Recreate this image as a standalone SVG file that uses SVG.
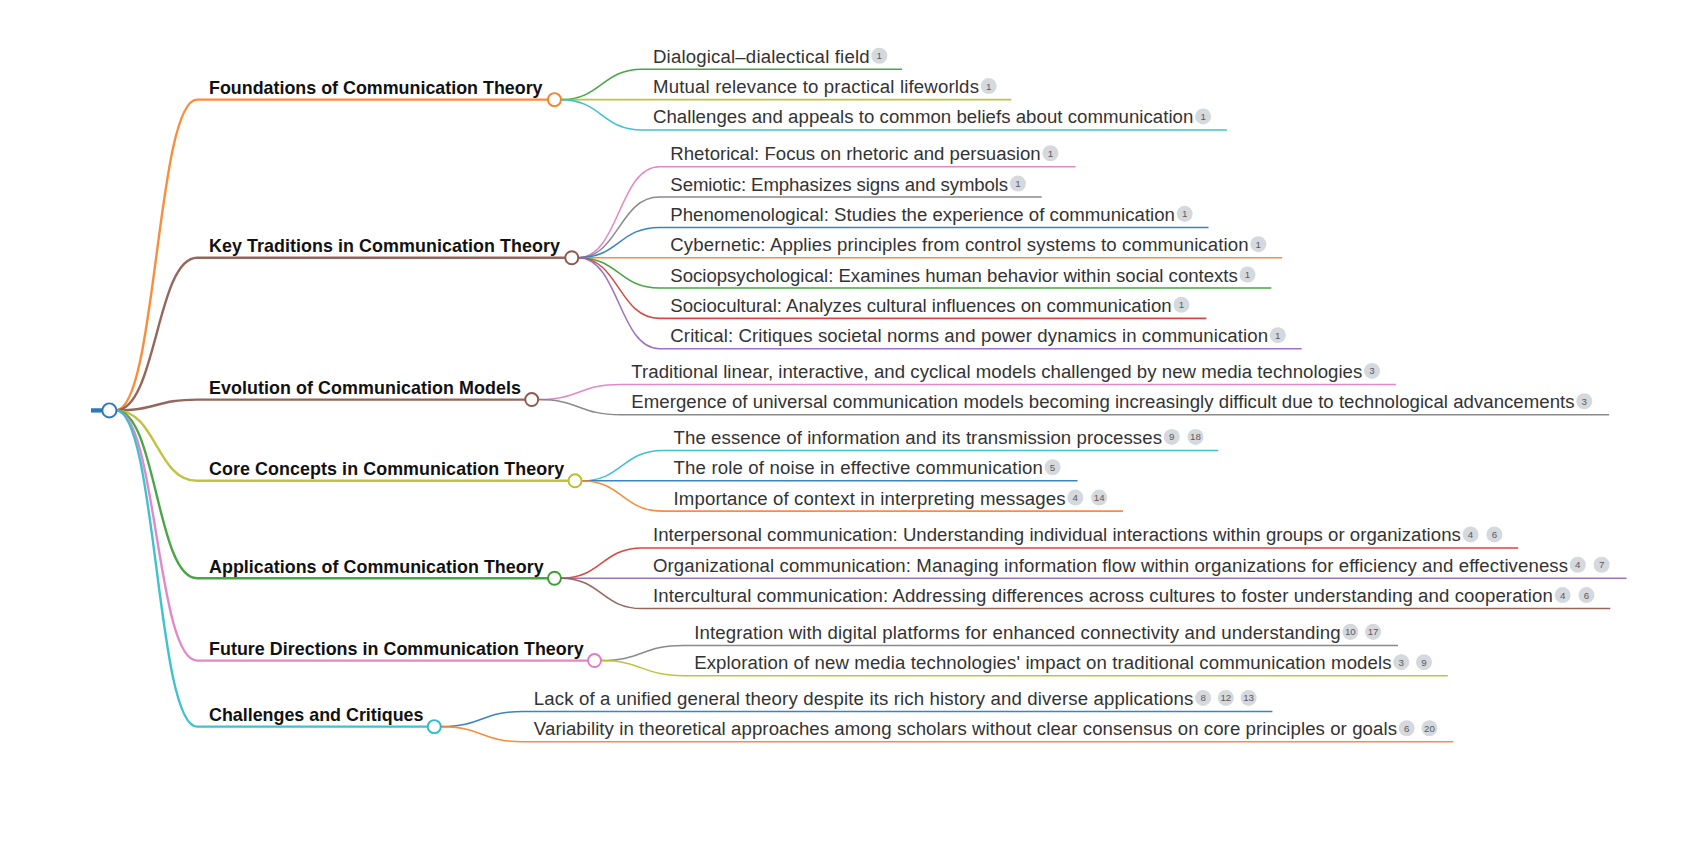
<svg xmlns="http://www.w3.org/2000/svg" width="1698" height="850" viewBox="0 0 1698 850">
<style>
.c1{fill:none;stroke-width:2.2;stroke-opacity:0.92}
.c2{fill:none;stroke-width:1.4;stroke-opacity:0.92}
.t1{font-family:"Liberation Sans",Arial,sans-serif;font-weight:bold;font-size:16.5px;fill:#111}
.t2{font-family:"Liberation Sans",Arial,sans-serif;font-size:17.2px;fill:#333}
.dot{fill:#fff;stroke-width:1.8}
.b circle{fill:#d5d8dd}
.b text{font-family:"Liberation Sans",Arial,sans-serif;font-size:9px;fill:#5a5a5a;text-anchor:middle}
.blue{stroke:#2a7ab8}.orange{stroke:#f8832a}.green{stroke:#3a9e34}.red{stroke:#d33a32}.purple{stroke:#9467bd}
.brown{stroke:#8c5a4e}.pink{stroke:#e07ec4}.gray{stroke:#808080}.olive{stroke:#bcbd30}.cyan{stroke:#2fbccc}
</style>
<rect width="1698" height="850" fill="#fff"/>
<g transform="scale(1.0829)">
<g id="connectors">
<line x1="84" y1="379" x2="96" y2="379" stroke="#2a7ab8" stroke-width="4"/>
<path class="c1 orange" d="M107 379C144.5 379 144.5 92 182 92L506 92"/>
<path class="c1 brown" d="M107 379C144.5 379 144.5 238 182 238L522 238"/>
<path class="c1 brown" d="M107 379C144.5 379 144.5 369 182 369L485 369"/>
<path class="c1 olive" d="M107 379C144.5 379 144.5 444 182 444L525 444"/>
<path class="c1 green" d="M107 379C144.5 379 144.5 534 182 534L506 534"/>
<path class="c1 pink" d="M107 379C144.5 379 144.5 610 182 610L543 610"/>
<path class="c1 cyan" d="M107 379C144.5 379 144.5 671 182 671L395 671"/>

<path class="c2 green" d="M518 92C555.5 92 555.5 64 593 64L833 64"/>
<path class="c2 olive" d="M518 92L934 92"/>
<path class="c2 cyan" d="M518 92C555.5 92 555.5 120 593 120L1133 120"/>

<path class="c2 pink" d="M534 238C571.5 238 571.5 154 609 154L993 154"/>
<path class="c2 gray" d="M534 238C571.5 238 571.5 182 609 182L962 182"/>
<path class="c2 blue" d="M534 238C571.5 238 571.5 210 609 210L1116 210"/>
<path class="c2 orange" d="M534 238L1184 238"/>
<path class="c2 green" d="M534 238C571.5 238 571.5 266 609 266L1174 266"/>
<path class="c2 red" d="M534 238C571.5 238 571.5 294 609 294L1114 294"/>
<path class="c2 purple" d="M534 238C571.5 238 571.5 322 609 322L1202 322"/>

<path class="c2 pink" d="M497 369C535 369 535 355 573 355L1289 355"/>
<path class="c2 gray" d="M497 369C535 369 535 383 573 383L1486 383"/>

<path class="c2 cyan" d="M537 444C574.5 444 574.5 416 612 416L1125 416"/>
<path class="c2 blue" d="M537 444L995 444"/>
<path class="c2 orange" d="M537 444C574.5 444 574.5 472 612 472L1037 472"/>

<path class="c2 red" d="M518 534C555.5 534 555.5 506 593 506L1402 506"/>
<path class="c2 purple" d="M518 534L1502 534"/>
<path class="c2 brown" d="M518 534C555.5 534 555.5 562 593 562L1487 562"/>

<path class="c2 gray" d="M555 610C593 610 593 596 631 596L1291 596"/>
<path class="c2 olive" d="M555 610C593 610 593 624 631 624L1337 624"/>

<path class="c2 blue" d="M407 671C445 671 445 657 483 657L1175 657"/>
<path class="c2 orange" d="M407 671C445 671 445 685 483 685L1342 685"/>
</g>

<g id="root"><circle class="dot blue" cx="101" cy="379" r="6.5" stroke-width="2"/></g>

<g id="n1"><circle class="dot orange" cx="512" cy="92" r="6"/><text class="t1" x="193" y="87" textLength="308">Foundations of Communication Theory</text></g>
<g id="n2"><circle class="dot brown" cx="528" cy="238" r="6"/><text class="t1" x="193" y="233" textLength="324">Key Traditions in Communication Theory</text></g>
<g id="n3"><circle class="dot brown" cx="491" cy="369" r="6"/><text class="t1" x="193" y="364" textLength="288">Evolution of Communication Models</text></g>
<g id="n4"><circle class="dot olive" cx="531" cy="444" r="6"/><text class="t1" x="193" y="439" textLength="328">Core Concepts in Communication Theory</text></g>
<g id="n5"><circle class="dot green" cx="512" cy="534" r="6"/><text class="t1" x="193" y="529" textLength="309">Applications of Communication Theory</text></g>
<g id="n6"><circle class="dot pink" cx="549" cy="610" r="6"/><text class="t1" x="193" y="605" textLength="346">Future Directions in Communication Theory</text></g>
<g id="n7"><circle class="dot cyan" cx="401" cy="671" r="6"/><text class="t1" x="193" y="666" textLength="198">Challenges and Critiques</text></g>

<g id="n1-1"><text class="t2" x="603" y="58" textLength="200">Dialogical–dialectical field</text><g class="b"><circle cx="812" cy="51.5" r="7.4"/><text x="812" y="54.7">1</text></g></g>
<g id="n1-2"><text class="t2" x="603" y="86" textLength="301">Mutual relevance to practical lifeworlds</text><g class="b"><circle cx="913" cy="79.5" r="7.4"/><text x="913" y="82.7">1</text></g></g>
<g id="n1-3"><text class="t2" x="603" y="114" textLength="499">Challenges and appeals to common beliefs about communication</text><g class="b"><circle cx="1111" cy="107.5" r="7.4"/><text x="1111" y="110.7">1</text></g></g>

<g id="n2-1"><text class="t2" x="619" y="148" textLength="342">Rhetorical: Focus on rhetoric and persuasion</text><g class="b"><circle cx="970" cy="141.5" r="7.4"/><text x="970" y="144.7">1</text></g></g>
<g id="n2-2"><text class="t2" x="619" y="176" textLength="312">Semiotic: Emphasizes signs and symbols</text><g class="b"><circle cx="940" cy="169.5" r="7.4"/><text x="940" y="172.7">1</text></g></g>
<g id="n2-3"><text class="t2" x="619" y="204" textLength="466">Phenomenological: Studies the experience of communication</text><g class="b"><circle cx="1094" cy="197.5" r="7.4"/><text x="1094" y="200.7">1</text></g></g>
<g id="n2-4"><text class="t2" x="619" y="232" textLength="534">Cybernetic: Applies principles from control systems to communication</text><g class="b"><circle cx="1162" cy="225.5" r="7.4"/><text x="1162" y="228.7">1</text></g></g>
<g id="n2-5"><text class="t2" x="619" y="260" textLength="524">Sociopsychological: Examines human behavior within social contexts</text><g class="b"><circle cx="1152" cy="253.5" r="7.4"/><text x="1152" y="256.7">1</text></g></g>
<g id="n2-6"><text class="t2" x="619" y="288" textLength="463">Sociocultural: Analyzes cultural influences on communication</text><g class="b"><circle cx="1091" cy="281.5" r="7.4"/><text x="1091" y="284.7">1</text></g></g>
<g id="n2-7"><text class="t2" x="619" y="316" textLength="552">Critical: Critiques societal norms and power dynamics in communication</text><g class="b"><circle cx="1180" cy="309.5" r="7.4"/><text x="1180" y="312.7">1</text></g></g>

<g id="n3-1"><text class="t2" x="583" y="349" textLength="675">Traditional linear, interactive, and cyclical models challenged by new media technologies</text><g class="b"><circle cx="1267" cy="342.5" r="7.4"/><text x="1267" y="345.7">3</text></g></g>
<g id="n3-2"><text class="t2" x="583" y="377" textLength="871">Emergence of universal communication models becoming increasingly difficult due to technological advancements</text><g class="b"><circle cx="1463" cy="370.5" r="7.4"/><text x="1463" y="373.7">3</text></g></g>

<g id="n4-1"><text class="t2" x="622" y="410" textLength="451">The essence of information and its transmission processes</text><g class="b"><circle cx="1082" cy="403.5" r="7.4"/><text x="1082" y="406.7">9</text></g><g class="b"><circle cx="1104" cy="403.5" r="7.4"/><text x="1104" y="406.7">18</text></g></g>
<g id="n4-2"><text class="t2" x="622" y="438" textLength="341">The role of noise in effective communication</text><g class="b"><circle cx="972" cy="431.5" r="7.4"/><text x="972" y="434.7">5</text></g></g>
<g id="n4-3"><text class="t2" x="622" y="466" textLength="362">Importance of context in interpreting messages</text><g class="b"><circle cx="993" cy="459.5" r="7.4"/><text x="993" y="462.7">4</text></g><g class="b"><circle cx="1015" cy="459.5" r="7.4"/><text x="1015" y="462.7">14</text></g></g>

<g id="n5-1"><text class="t2" x="603" y="500" textLength="746">Interpersonal communication: Understanding individual interactions within groups or organizations</text><g class="b"><circle cx="1358" cy="493.5" r="7.4"/><text x="1358" y="496.7">4</text></g><g class="b"><circle cx="1380" cy="493.5" r="7.4"/><text x="1380" y="496.7">6</text></g></g>
<g id="n5-2"><text class="t2" x="603" y="528" textLength="845">Organizational communication: Managing information flow within organizations for efficiency and effectiveness</text><g class="b"><circle cx="1457" cy="521.5" r="7.4"/><text x="1457" y="524.7">4</text></g><g class="b"><circle cx="1479" cy="521.5" r="7.4"/><text x="1479" y="524.7">7</text></g></g>
<g id="n5-3"><text class="t2" x="603" y="556" textLength="831">Intercultural communication: Addressing differences across cultures to foster understanding and cooperation</text><g class="b"><circle cx="1443" cy="549.5" r="7.4"/><text x="1443" y="552.7">4</text></g><g class="b"><circle cx="1465" cy="549.5" r="7.4"/><text x="1465" y="552.7">6</text></g></g>

<g id="n6-1"><text class="t2" x="641" y="590" textLength="597">Integration with digital platforms for enhanced connectivity and understanding</text><g class="b"><circle cx="1247" cy="583.5" r="7.4"/><text x="1247" y="586.7">10</text></g><g class="b"><circle cx="1268" cy="583.5" r="7.4"/><text x="1268" y="586.7">17</text></g></g>
<g id="n6-2"><text class="t2" x="641" y="618" textLength="644">Exploration of new media technologies' impact on traditional communication models</text><g class="b"><circle cx="1294" cy="611.5" r="7.4"/><text x="1294" y="614.7">3</text></g><g class="b"><circle cx="1315" cy="611.5" r="7.4"/><text x="1315" y="614.7">9</text></g></g>

<g id="n7-1"><text class="t2" x="493" y="651" textLength="609">Lack of a unified general theory despite its rich history and diverse applications</text><g class="b"><circle cx="1111" cy="644.5" r="7.4"/><text x="1111" y="647.7">8</text></g><g class="b"><circle cx="1132" cy="644.5" r="7.4"/><text x="1132" y="647.7">12</text></g><g class="b"><circle cx="1153" cy="644.5" r="7.4"/><text x="1153" y="647.7">13</text></g></g>
<g id="n7-2"><text class="t2" x="493" y="679" textLength="797">Variability in theoretical approaches among scholars without clear consensus on core principles or goals</text><g class="b"><circle cx="1299" cy="672.5" r="7.4"/><text x="1299" y="675.7">6</text></g><g class="b"><circle cx="1320" cy="672.5" r="7.4"/><text x="1320" y="675.7">20</text></g></g>
</g>
</svg>
